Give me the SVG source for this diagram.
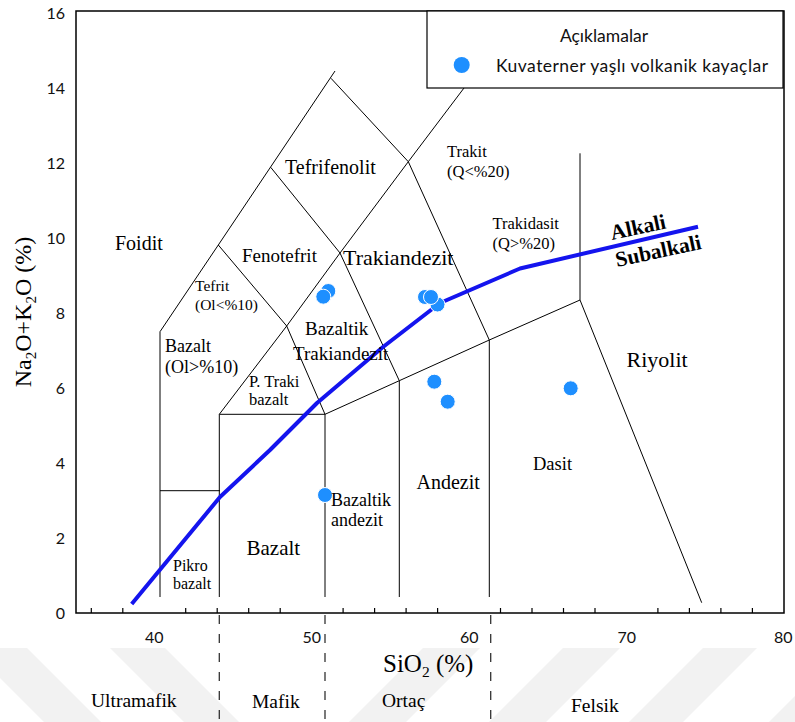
<svg xmlns="http://www.w3.org/2000/svg" width="795" height="722" viewBox="0 0 795 722">
<style>
.wm{fill:#f2f2f2;stroke:none}
.frame{fill:none;stroke:#000;stroke-width:1.5}
.tick{stroke:#000;stroke-width:1.2}
.dash{stroke:#333;stroke-width:1.3;stroke-dasharray:9 10}
.b{fill:none;stroke:#000;stroke-width:1}
.alk{fill:none;stroke:#1414ee;stroke-width:4;stroke-linejoin:round;stroke-linecap:butt}
.pt{fill:#1e8fff;stroke:#fff;stroke-width:1}
.num{font-family:Lato,"Open Sans",sans-serif;font-size:16px;fill:#111}
.lab{font-family:"Liberation Serif","Times New Roman",serif;fill:#000}
.leg{font-family:Lato,"Open Sans",sans-serif;font-size:17.5px;fill:#111}
</style>
<rect x="0" y="0" width="795" height="722" fill="#fff"/>
<g id="watermark">
<polygon class="wm" points="-30,648 27,648 101,722 44,722"/>
<polygon class="wm" points="110,648 165,648 239,722 184,722"/>
<polygon class="wm" points="423,648 480,648 406,722 349,722"/>
<polygon class="wm" points="563,648 620,648 546,722 489,722"/>
<polygon class="wm" points="703,648 757,648 683,722 629,722"/>
<polygon class="wm" points="843,648 900,648 826,722 769,722"/>
</g>
<g id="axes">
<rect class="frame" x="76" y="11" width="708" height="602"/>
<g id="xticks">
<path class="tick" d="M91.3 608V613M122.8 608V613M185.7 608V613M217.2 608V613M248.7 608V613M280.2 608V613M343.1 608V613M374.6 608V613M406.1 608V613M437.6 608V613M500.5 608V613M532 608V613M563.5 608V613M595 608V613M657.9 608V613M689.4 608V613M720.9 608V613M752.4 608V613"/>
</g>
<g id="ylabels" text-anchor="end">
<text class="num" x="65" y="19">16</text>
<text class="num" x="65" y="94">14</text>
<text class="num" x="65" y="169">12</text>
<text class="num" x="65" y="244">10</text>
<text class="num" x="65" y="319">8</text>
<text class="num" x="65" y="394">6</text>
<text class="num" x="65" y="469">4</text>
<text class="num" x="65" y="544">2</text>
<text class="num" x="65" y="619">0</text>
</g>
<g id="xlabels" text-anchor="middle">
<text class="num" x="154.3" y="643">40</text>
<text class="num" x="311.7" y="643">50</text>
<text class="num" x="469.3" y="643">60</text>
<text class="num" x="626.7" y="643">70</text>
<text class="num" x="783.3" y="643">80</text>
</g>
<text class="lab" font-size="25" x="383" y="672">SiO<tspan font-size="15.5" dy="5">2</tspan><tspan dy="-5"> (%)</tspan></text>
<text class="lab" font-size="24" text-anchor="middle" transform="translate(31,312) rotate(-90)">Na<tspan font-size="15" dy="5">2</tspan><tspan dy="-5">O+K</tspan><tspan font-size="15" dy="5">2</tspan><tspan dy="-5">O (%)</tspan></text>
</g>
<g id="classes">
<path class="dash" d="M219.3 615V722M325 615V722M490.7 615V722"/>
<text class="lab" font-size="19.5" x="91" y="707">Ultramafik</text>
<text class="lab" font-size="19.5" x="252" y="708">Mafik</text>
<text class="lab" font-size="19.5" x="382" y="707">Ortaç</text>
<text class="lab" font-size="19.5" x="571" y="712">Felsik</text>
</g>
<g id="boundaries">
<path class="b" d="M160 597V331.7L218.3 245L335 71"/>
<path class="b" d="M331 78.3L408.3 161.7L464 88"/>
<path class="b" d="M218.3 245L286.7 326L325 414.3V597"/>
<path class="b" d="M270.7 167.3L340 253L399.3 380.7V597"/>
<path class="b" d="M340 253L408.3 161.7L489.3 340V597"/>
<path class="b" d="M286.7 326L340 253"/>
<path class="b" d="M286.7 326L219.3 414.3V597"/>
<path class="b" d="M219.3 414.3H325L399.3 380.7L489.3 340L580 300L701.7 602.7"/>
<path class="b" d="M580 300V153.3"/>
<path class="b" d="M160 490.7H220"/>
</g>
<g id="alkali-line">
<polyline class="alk" points="131.7,604 220,497 270,450 317,403 383,347 440,303 520,268.5 698,226.7"/>
</g>
<g id="points">
<circle class="pt" cx="328.3" cy="291" r="7.5"/>
<circle class="pt" cx="323.3" cy="296.7" r="7.5"/>
<circle class="pt" cx="425" cy="297" r="7.5"/>
<circle class="pt" cx="437.5" cy="304.5" r="7.5"/>
<circle class="pt" cx="431" cy="297" r="7.5"/>
<circle class="pt" cx="434.3" cy="381.7" r="7.5"/>
<circle class="pt" cx="447.7" cy="401.7" r="7.5"/>
<circle class="pt" cx="570.7" cy="388.3" r="7.5"/>
<circle class="pt" cx="325" cy="495" r="7.5"/>
</g>
<g id="field-labels" class="lab">
<text font-size="20" x="115" y="250">Foidit</text>
<text font-size="20" x="285" y="173.5">Tefrifenolit</text>
<text font-size="19" x="242" y="262">Fenotefrit</text>
<text font-size="22" x="343" y="265">Trakiandezit</text>
<text font-size="15.5" x="195" y="291">Tefrit</text>
<text font-size="15.5" x="195" y="309.5">(Ol&lt;%10)</text>
<text font-size="18" x="165" y="352">Bazalt</text>
<text font-size="18" x="165" y="373">(Ol&gt;%10)</text>
<text font-size="19" x="305" y="335">Bazaltik</text>
<text font-size="19" x="293" y="360">Trakiandezit</text>
<text font-size="16.5" x="249" y="387">P. Traki</text>
<text font-size="16.5" x="249" y="405">bazalt</text>
<text font-size="16.5" x="447" y="157">Trakit</text>
<text font-size="16.5" x="447" y="177">(Q&lt;%20)</text>
<text font-size="16.5" x="492.5" y="228.5">Trakidasit</text>
<text font-size="16.5" x="492.5" y="248.5">(Q&gt;%20)</text>
<text font-size="21.5" font-weight="bold" transform="translate(612,240) rotate(-12)">Alkali</text>
<text font-size="21.5" font-weight="bold" transform="translate(617,267) rotate(-12)">Subalkali</text>
<text font-size="22" x="626.5" y="367">Riyolit</text>
<text font-size="18.5" x="533" y="469.5">Dasit</text>
<text font-size="20" x="416.5" y="488.5">Andezit</text>
<text font-size="18" x="331" y="506">Bazaltik</text>
<text font-size="18" x="331" y="526">andezit</text>
<text font-size="21" x="246.5" y="555">Bazalt</text>
<text font-size="16" x="173" y="571">Pikro</text>
<text font-size="16" x="173" y="588.5">bazalt</text>
</g>
<g id="legend">
<rect x="427" y="11" width="356" height="77" fill="#fff" stroke="#000" stroke-width="1.2"/>
<text class="leg" x="604" y="41.5" text-anchor="middle">Açıklamalar</text>
<circle cx="461.7" cy="65" r="8" fill="#1e8fff"/>
<text class="leg" x="496" y="71.5" textLength="272" lengthAdjust="spacing">Kuvaterner yaşlı volkanik kayaçlar</text>
</g>
</svg>
